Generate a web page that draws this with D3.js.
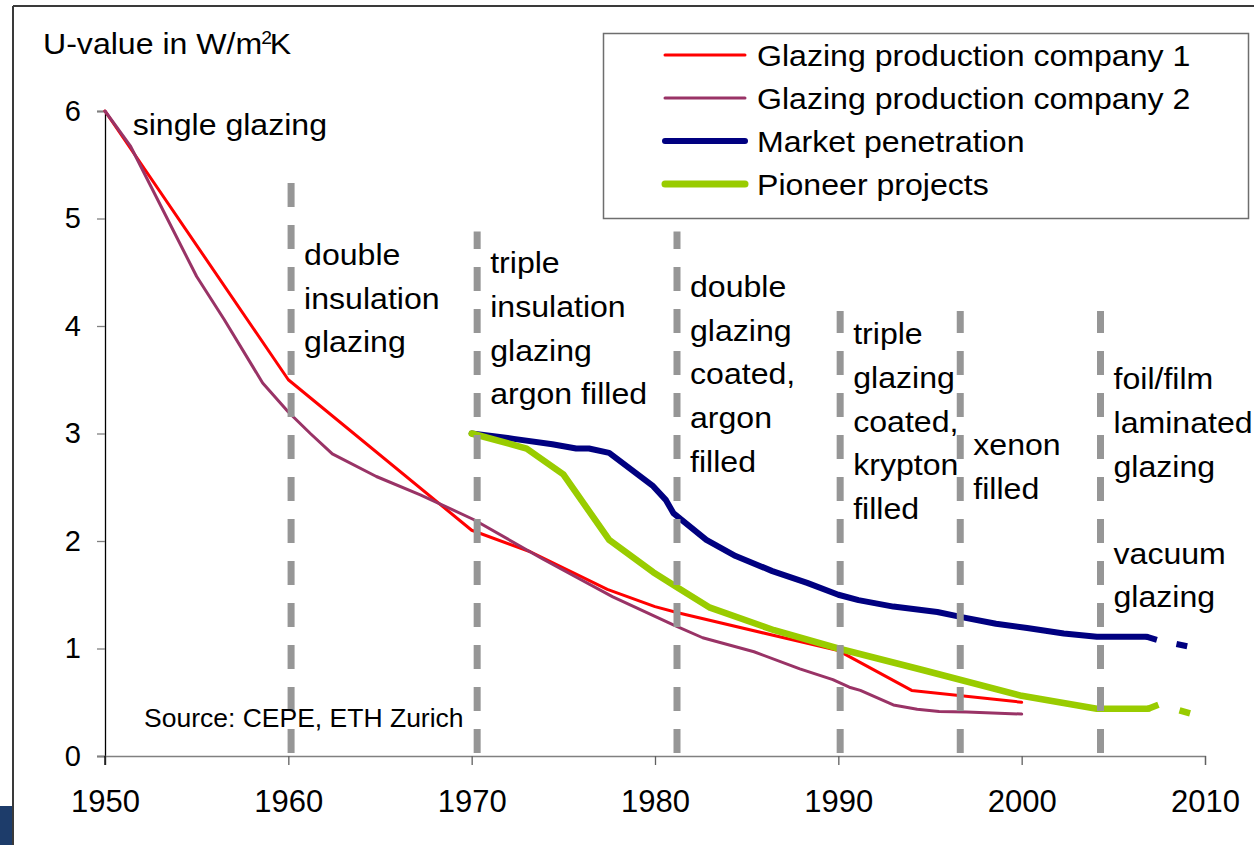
<!DOCTYPE html>
<html>
<head>
<meta charset="utf-8">
<script src="https://cdn.jsdelivr.net/npm/d3@7"></script>
<style>
  html, body { margin: 0; padding: 0; background: #ffffff; }
  svg { display: block; }
  text { font-family: "Liberation Sans", Arial, Helvetica, sans-serif; fill: #000; }
</style>
</head>
<body>
<svg id="chart" width="1254" height="845"></svg>
<script>
// ---------------- data ----------------
const xTickValues = [1950, 1960, 1970, 1980, 1990, 2000, 2010];
const yTickValues = [0, 1, 2, 3, 4, 5, 6];

const seriesNames = ["Glazing production company 1", "Glazing production company 2", "Market penetration", "Pioneer projects"];

const company1Years  = [1950, 1960, 1970, 1973.2, 1977.4, 1980, 1981.3, 1990, 1994, 2000];
const company1Values = [6.0, 3.5, 2.1, 1.9, 1.55, 1.39, 1.33, 0.98, 0.61, 0.5];

const company2Years  = [1950, 1951.4, 1952.5, 1955, 1956.5, 1958.6, 1960, 1961.2, 1962.4, 1964.8, 1967.2, 1970.1, 1973.9, 1977.7, 1981, 1982.6, 1985.4, 1987.9, 1989.7, 1990.6, 1991.2, 1993, 1994.3, 1995.5, 1997, 2000];
const company2Values = [6.0, 5.67, 5.3, 4.46, 4.06, 3.47, 3.2, 3.0, 2.81, 2.6, 2.43, 2.2, 1.83, 1.48, 1.22, 1.10, 0.97, 0.81, 0.71, 0.64, 0.61, 0.475, 0.435, 0.415, 0.41, 0.39];

const marketYears  = [1970, 1972.3, 1974.4, 1975.7, 1976.4, 1977.5, 1979.9, 1980.6, 1981, 1982.8, 1984.4, 1986.4, 1988.3, 1990, 1991.1, 1993, 1995.4, 1996.8, 1998.6, 2000.3, 2002.3, 2004.1, 2006.8];
const marketValues = [3.0, 2.95, 2.9, 2.86, 2.86, 2.82, 2.51, 2.38, 2.26, 2.01, 1.86, 1.72, 1.61, 1.5, 1.45, 1.39, 1.34, 1.29, 1.23, 1.19, 1.14, 1.11, 1.11];
const marketForecastYears  = [2006.8, 2007.4, 2009.2];
const marketForecastValues = [1.11, 1.08, 1.015];

const pioneerYears  = [1970, 1973, 1975, 1977.5, 1979.9, 1981.2, 1983, 1986.5, 1990, 1994.6, 2000, 2004.1, 2006.9];
const pioneerValues = [3.0, 2.86, 2.62, 2.01, 1.71, 1.57, 1.38, 1.17, 1.0, 0.8, 0.56, 0.44, 0.44];
const pioneerForecastYears  = [2006.9, 2007.5, 2009.5];
const pioneerForecastValues = [0.44, 0.48, 0.38];

// technology milestones (vertical dashed markers)
const milestoneYears    = [1960.15, 1970.3, 1981.2, 1990.1, 1996.65, 2004.3];
const milestoneTopValue = [5.4, 4.88, 4.88, 4.14, 4.14, 4.14];

// annotations
const annotationLines = [
  ["single glazing"],
  ["double", "insulation", "glazing"],
  ["triple", "insulation", "glazing", "argon filled"],
  ["double", "glazing", "coated,", "argon", "filled"],
  ["triple", "glazing", "coated,", "krypton", "filled"],
  ["xenon", "filled"],
  ["foil/film", "laminated", "glazing"],
  ["vacuum", "glazing"]
];
const annotationYears  = [1950.8, 1960.15, 1970.3, 1981.2, 1990.1, 1996.65, 2004.3, 2004.3];
const annotationValues = [5.777, 4.567, 4.49, 4.27, 3.83, 2.80, 3.41, 1.79];

const yAxisTitle = "U-value in W/m";
const sourceText = "Source: CEPE, ETH Zurich";

// ---------------- drawing ----------------
const svg = d3.select("#chart");
const x = d3.scaleLinear().domain([1950, 2010]).range([105, 1205]);
const y = d3.scaleLinear().domain([0, 6]).range([756, 111]);

const colors = ["#ff0000", "#993366", "#000080", "#99cc00"];
const widths = [3, 3, 6, 6.5];
const stretch = 1.07;

// outer frame
svg.append("rect").attr("x", 0).attr("y", 806).attr("width", 12).attr("height", 39).attr("fill", "#1d3c6a");
svg.append("line").attr("x1", 13).attr("x2", 13).attr("y1", 6).attr("y2", 845).attr("stroke", "#3a3a3a").attr("stroke-width", 2);
svg.append("line").attr("x1", 13).attr("x2", 1254).attr("y1", 6).attr("y2", 6).attr("stroke", "#3a3a3a").attr("stroke-width", 2);

// axes
const yAxis = svg.append("g").attr("transform", `translate(${x(1950)},0)`)
  .call(d3.axisLeft(y).tickValues(yTickValues).tickSize(8).tickPadding(16).tickFormat(d3.format("d")));
yAxis.select(".domain").attr("stroke", "#000").attr("stroke-width", 1.3);
yAxis.selectAll(".tick line").attr("stroke", "#808080").attr("stroke-width", 1.3);
yAxis.selectAll(".tick text").style("font-size", "29px").style("font-family", "Liberation Sans, Arial, sans-serif").attr("fill", "#000");

const xAxis = svg.append("g").attr("transform", `translate(0,${y(0)})`)
  .call(d3.axisBottom(x).tickValues(xTickValues).tickSize(9).tickPadding(25).tickFormat(d3.format("d")));
xAxis.select(".domain").attr("stroke", "#808080").attr("stroke-width", 1.3);
xAxis.selectAll(".tick line").attr("stroke", "#606060").attr("stroke-width", 1.3);
xAxis.selectAll(".tick text").style("font-size", "31px").style("font-family", "Liberation Sans, Arial, sans-serif").attr("fill", "#000");
svg.append("line").attr("x1", x(1950)).attr("x2", x(1950)).attr("y1", y(0)).attr("y2", y(0) + 9).attr("stroke", "#000").attr("stroke-width", 1.3);

// series
const line = d3.line().x(d => x(d[0])).y(d => y(d[1]));
const zip = (a, b) => a.map((v, i) => [v, b[i]]);
const series = [
  zip(company1Years, company1Values),
  zip(company2Years, company2Values),
  zip(marketYears, marketValues),
  zip(pioneerYears, pioneerValues)
];
series.forEach((s, i) => {
  svg.append("path").attr("d", line(s)).attr("fill", "none")
    .attr("stroke", colors[i]).attr("stroke-width", widths[i])
    .attr("stroke-linejoin", "round").attr("stroke-linecap", "round");
});
svg.append("path").attr("d", line(zip(marketForecastYears, marketForecastValues))).attr("fill", "none")
  .attr("stroke", colors[2]).attr("stroke-width", widths[2]).attr("stroke-dasharray", "11,20");
svg.append("path").attr("d", line(zip(pioneerForecastYears, pioneerForecastValues))).attr("fill", "none")
  .attr("stroke", colors[3]).attr("stroke-width", widths[3]).attr("stroke-dasharray", "11,22");

// milestone dashed lines (drawn from bottom upward)
milestoneYears.forEach((yr, i) => {
  svg.append("line")
    .attr("x1", x(yr)).attr("x2", x(yr))
    .attr("y1", y(0) - 3).attr("y2", y(milestoneTopValue[i]))
    .attr("stroke", "#969696").attr("stroke-width", 7)
    .attr("stroke-dasharray", "24,18");
});

// annotations (text horizontally stretched like the reference)
annotationLines.forEach((lines, i) => {
  const ax = x(annotationYears[i]) + 13, ay = y(annotationValues[i]);
  const t = svg.append("text")
    .attr("transform", `translate(${ax},${ay}) scale(${stretch},1)`)
    .style("font-size", "30px");
  lines.forEach((ln, j) => {
    t.append("tspan").attr("x", 0).attr("y", j * 43.7).text(ln);
  });
});

// y axis title
const title = svg.append("text").attr("transform", `translate(43,54) scale(${stretch},1)`).style("font-size", "30px");
title.append("tspan").text(yAxisTitle);
title.append("tspan").attr("dy", -10).attr("dx", -1).style("font-size", "18px").text("2");
title.append("tspan").attr("dy", 10).attr("dx", -2).text("K");

// source
svg.append("text").attr("x", 144).attr("y", 727).style("font-size", "26.5px").text(sourceText);

// legend
const lg = svg.append("g");
lg.append("rect").attr("x", 603.5).attr("y", 33.5).attr("width", 645).attr("height", 185)
  .attr("fill", "#fff").attr("stroke", "#6e6e6e").attr("stroke-width", 1.5);
const legendWidths = [3, 3, 6, 7];
seriesNames.forEach((name, i) => {
  const cy = 55 + i * 43;
  lg.append("line").attr("x1", 665).attr("x2", 745).attr("y1", cy).attr("y2", cy)
    .attr("stroke", colors[i]).attr("stroke-width", legendWidths[i]).attr("stroke-linecap", "round");
  lg.append("text").attr("transform", `translate(757,${cy + 11}) scale(${stretch},1)`)
    .style("font-size", "30px").text(name);
});
</script>
</body>
</html>
